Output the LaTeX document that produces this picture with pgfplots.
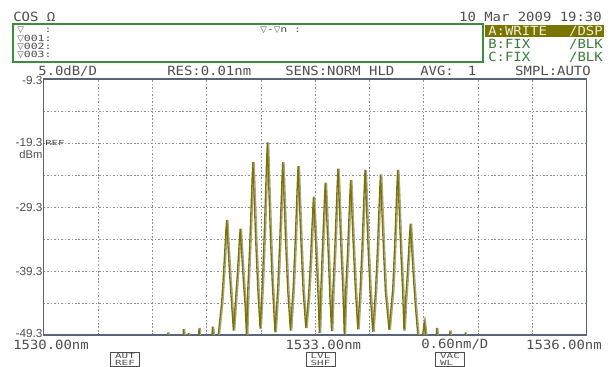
\documentclass[border=0pt]{standalone}
\usepackage{pgfplots}
\pgfplotsset{compat=1.18}
\usepackage{pgfplotstable}
\usepackage{fontspec}
\setmainfont{DejaVu Sans Mono}
\newfontfamily\osa[FakeStretch=1.1]{DejaVu Sans Mono}
\newfontfamily\osasmall[FakeStretch=1.35]{DejaVu Sans Mono}
\newfontfamily\osakey[FakeStretch=1.55]{DejaVu Sans Mono}
\newfontfamily\symf{DejaVu Sans}
\newfontfamily\labf{Liberation Sans}
\definecolor{olv}{HTML}{7A7500}
\definecolor{olvgray}{HTML}{A6A58A}
\definecolor{gridc}{HTML}{8A8E9A}
\definecolor{axc}{HTML}{5A6478}
\definecolor{txt}{HTML}{4E4E4E}
\definecolor{grn}{HTML}{3E8A3E}
\definecolor{grntxt}{HTML}{3A7A3A}
\definecolor{hitxt}{HTML}{ECECD8}

% x: wavelength minus 1530 nm ; y: level in dBm
\pgfplotstableread{
x y
0.000 -60
1.340 -60
1.372 -48.9
1.400 -60
1.520 -60
1.542 -48.4
1.565 -52.0
1.597 -49.0
1.620 -60
1.690 -60
1.715 -48.2
1.740 -56
1.840 -55
1.863 -48.0
1.890 -53
1.930 -49.0
1.965 -44.2
1.985 -39.9
2.000 -36.1
2.012 -33.0
2.020 -31.3
2.028 -33.4
2.040 -36.5
2.055 -40.2
2.075 -44.4
2.095 -48.6
2.115 -44.55
2.135 -40.6
2.150 -37.1
2.162 -34.3
2.170 -32.7
2.178 -34.6
2.190 -37.4
2.205 -40.9
2.225 -44.7
2.240 -49.5
2.255 -41.95
2.275 -35.4
2.290 -29.6
2.302 -24.9
2.310 -22.3
2.318 -25.3
2.330 -30.0
2.345 -35.8
2.365 -42.2
2.390 -48.3
2.415 -41.2
2.435 -33.85
2.450 -27.4
2.462 -22.1
2.470 -19.2
2.478 -22.5
2.490 -27.8
2.505 -34.2
2.525 -41.4
2.555 -48.9
2.585 -41.95
2.605 -35.4
2.620 -29.6
2.632 -24.9
2.640 -22.3
2.648 -25.3
2.660 -30.0
2.675 -35.8
2.695 -42.2
2.725 -48.6
2.755 -42.1
2.775 -35.7
2.790 -30.1
2.802 -25.5
2.810 -22.9
2.818 -25.9
2.830 -30.5
2.845 -36.0
2.865 -42.3
2.895 -48.2
2.925 -43.3
2.945 -38.1
2.960 -33.5
2.972 -29.8
2.980 -27.7
2.988 -30.1
3.000 -33.8
3.015 -38.4
3.030 -43.0
3.045 -49.0
3.060 -42.75
3.075 -37.0
3.090 -31.9
3.102 -27.8
3.110 -25.5
3.118 -28.1
3.130 -32.2
3.145 -37.3
3.160 -42.9
3.180 -48.7
3.195 -42.2
3.215 -35.9
3.230 -30.4
3.242 -25.8
3.250 -23.3
3.258 -26.2
3.270 -30.8
3.285 -36.2
3.305 -42.4
3.320 -49.2
3.335 -42.65
3.355 -36.8
3.370 -31.65
3.382 -27.4
3.390 -25.1
3.398 -27.7
3.410 -32.0
3.425 -37.1
3.445 -42.8
3.470 -48.4
3.495 -42.25
3.515 -36.0
3.530 -30.5
3.542 -26.0
3.550 -23.5
3.558 -26.4
3.570 -30.9
3.585 -36.3
3.605 -42.4
3.635 -48.8
3.665 -42.4
3.685 -36.35
3.700 -31.0
3.712 -26.6
3.720 -24.2
3.728 -27.0
3.740 -31.3
3.755 -36.6
3.775 -42.6
3.815 -48.5
3.855 -42.25
3.875 -36.0
3.890 -30.5
3.902 -26.0
3.910 -23.5
3.918 -26.4
3.930 -30.9
3.945 -36.3
3.965 -42.4
3.980 -48.6
3.995 -44.35
4.015 -40.2
4.030 -36.55
4.042 -33.6
4.050 -31.9
4.058 -33.9
4.070 -36.9
4.085 -40.5
4.105 -44.6
4.130 -48.9
4.160 -52
4.185 -49.5
4.204 -47.3
4.225 -50
4.260 -60
4.325 -53
4.341 -48.2
4.360 -55
4.470 -58
4.488 -48.6
4.505 -58
4.640 -60
4.657 -48.9
4.670 -60
6.000 -60
}\trace

\begin{document}
\begin{tikzpicture}
\begin{scope}[x=0.75pt,y=-0.75pt]
\path[use as bounding box] (0,0) rectangle (614,367);
% header
\tikzset{big/.style={inner sep=0pt, text=txt, font=\osa\fontsize{9.5}{10}\selectfont},
         sm/.style={inner sep=0pt, text=txt, font=\osasmall\fontsize{6.4}{6.5}\selectfont},
         tk/.style={inner sep=0pt, text=txt, font=\labf\fontsize{8.8}{9}\selectfont, anchor=east}}
\node[big, anchor=west] at (13,17) {COS Ω};
\node[big, anchor=east] at (602,17) {10 Mar 2009 19:30};
\draw[grn, line width=0.8pt] (13,24) rectangle (483,62);
\node[sm, anchor=west] at (17,30) {{\symf ▽}\ \ \ :};
\node[sm, anchor=west] at (17,38.5) {{\symf ▽}001:};
\node[sm, anchor=west] at (17,46.5) {{\symf ▽}002:};
\node[sm, anchor=west] at (17,55) {{\symf ▽}003:};
\node[sm, anchor=west] at (260,30) {{\symf ▽}-{\symf ▽}n :};
\fill[olv] (485,25) rectangle (604,37.5);
\node[big, anchor=west, text=hitxt] at (488,31.2) {A:WRITE};
\node[big, anchor=east, text=hitxt] at (603,31.2) {/DSP};
\node[big, anchor=west, text=grntxt] at (488,44) {B:FIX};
\node[big, anchor=east, text=grntxt] at (603,44) {/BLK};
\node[big, anchor=west, text=grntxt] at (488,57) {C:FIX};
\node[big, anchor=east, text=grntxt] at (603,57) {/BLK};
\node[big, anchor=west] at (38,71) {5.0dB/D};
\node[big, anchor=west] at (167,71) {RES:0.01nm};
\node[big, anchor=west] at (285,71) {SENS:NORM HLD};
\node[big, anchor=west] at (420,71) {AVG:};
\node[big] at (472,71) {1};
\node[big, anchor=east] at (591,71) {SMPL:AUTO};
% y labels
\node[tk] at (42.7,80.5) {-9.3};
\node[tk] at (42.7,142) {-19.3};
\node[tk] at (42.7,207) {-29.3};
\node[tk] at (42.7,271) {-39.3};
\node[tk] at (42.7,333) {-49.3};
\node[tk, font=\labf\fontsize{8.4}{8.4}\selectfont] at (42.7,154) {dBm};
\node[sm, anchor=west, font=\osakey\fontsize{5.2}{5.2}\selectfont] at (45,142.5) {REF};
% x labels
\node[big, anchor=west] at (13,344.5) {1530.00nm};
\node[big] at (323.3,344.5) {1533.00nm};
\node[big, anchor=west] at (421,344.5) {0.60nm/D};
\node[big, anchor=east] at (602,344.5) {1536.00nm};
% soft-key boxes
\tikzset{kb/.style={draw=txt, line width=0.6pt, minimum width=21.75pt, minimum height=10.8pt, inner sep=0.4pt, text=txt, font=\osakey\fontsize{5.3}{5.0}\selectfont}}
\node[kb, align=center] at (125,359.5) {AUT\\REF};
\node[kb, align=center] at (320.5,359.5) {LVL\\SHF};
\node[kb, align=left] at (450,359.5) {VAC\\WL\ \ };
\end{scope}
\begin{axis}[at={(32.85pt,-59.25pt)}, anchor=north west, scale only axis,
  width=407.25pt, height=192pt,
  xmin=0, xmax=6, ymin=-49.3, ymax=-9.3,
  xtick={0.6,1.2,1.8,2.4,3.0,3.6,4.2,4.8,5.4},
  ytick={-44.3,-39.3,-34.3,-29.3,-24.3,-19.3,-14.3},
  xticklabels={}, yticklabels={},
  major tick length=0pt,
  grid=major,
  major grid style={gridc, line width=0.6pt, dash pattern=on 1.2pt off 1.4pt},
  axis line style={axc, line width=0.9pt},
  clip=true]
\addplot[olvgray, line width=1.0pt, mark=none] table[x expr=\thisrow{x}+0.014, y=y] {\trace};
\addplot[olv, line width=1.0pt, mark=none] table[x=x, y=y] {\trace};
\end{axis}
\end{tikzpicture}
\end{document}
